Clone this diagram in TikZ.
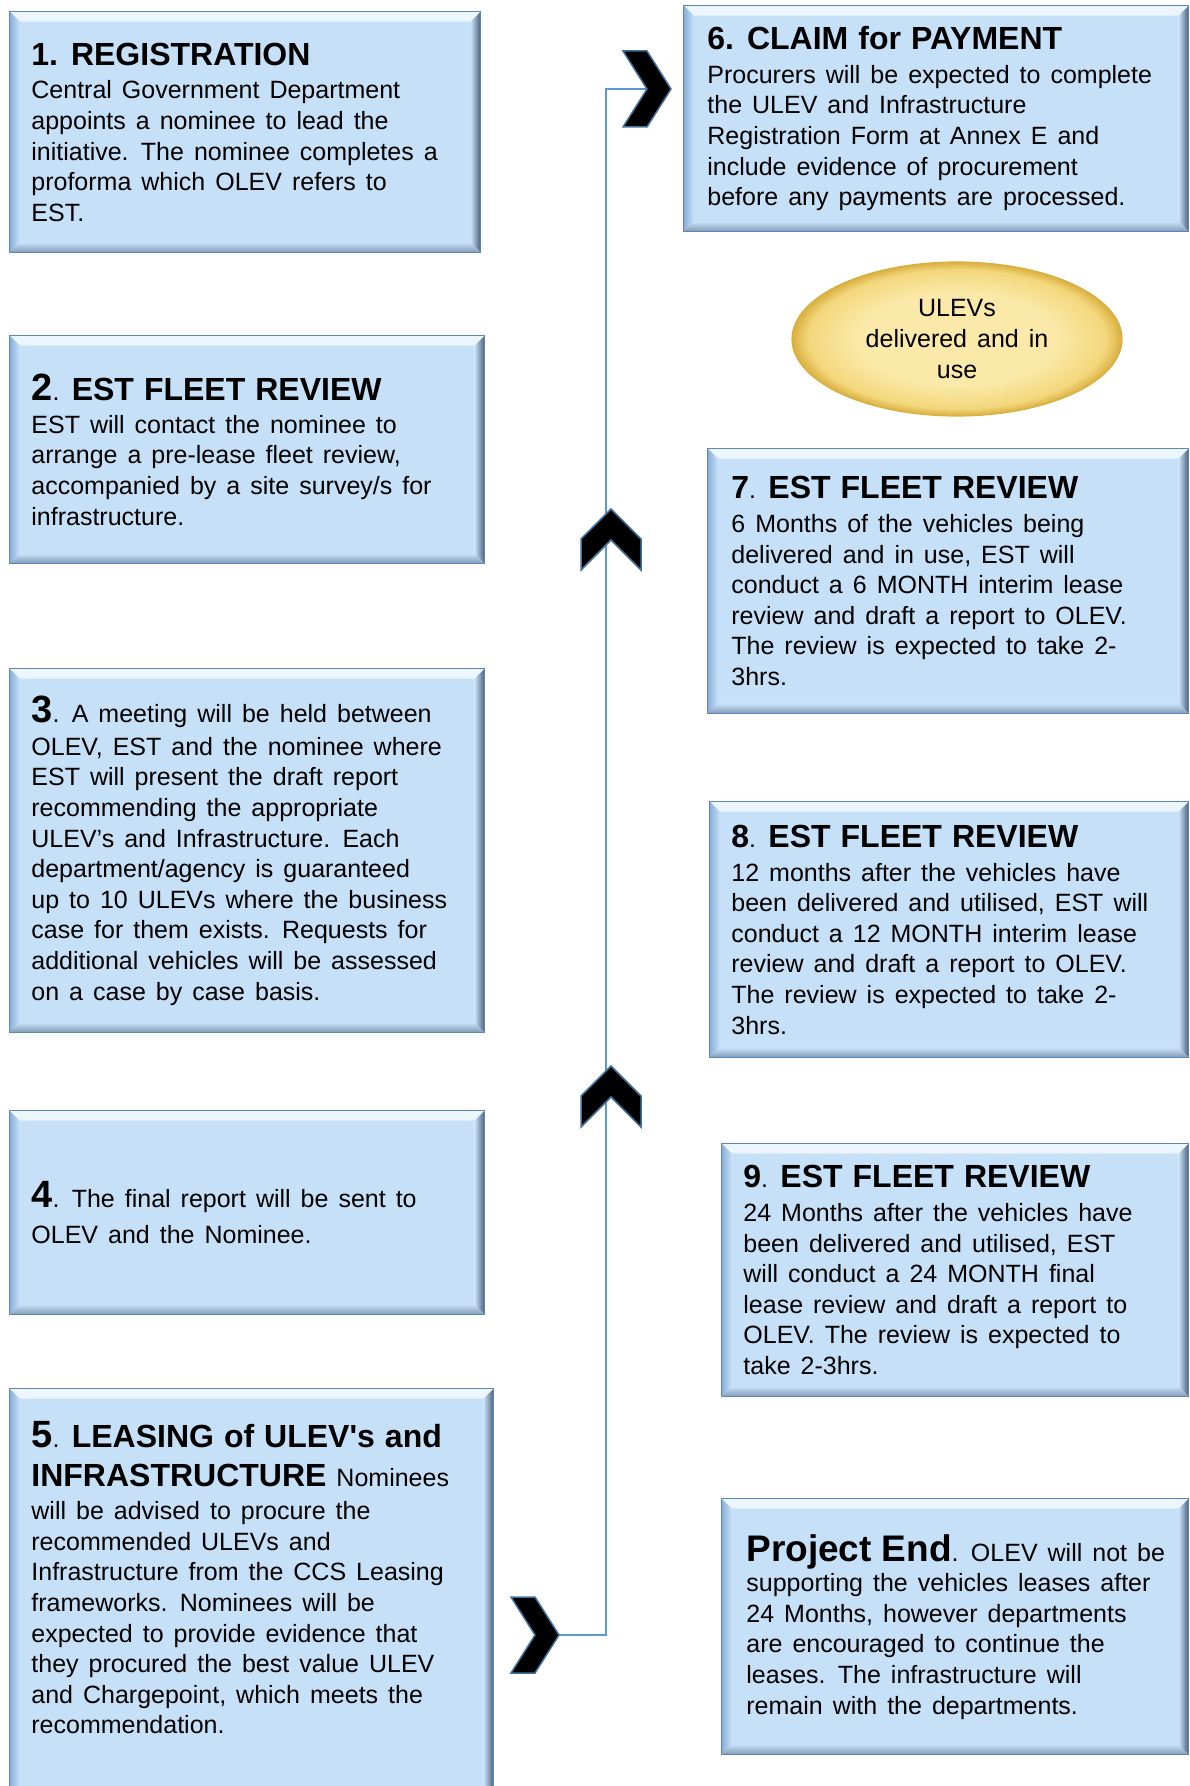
\documentclass[tikz,border=0pt]{standalone}
\usepackage{fontspec}
\setmainfont{Liberation Sans}
\usetikzlibrary{shapes.geometric, positioning}

\definecolor{boxfill}{HTML}{C6E0F8}
\definecolor{boxline}{HTML}{5A86B8}
\definecolor{bevtop}{HTML}{EDF6FE}
\definecolor{bevleft}{HTML}{8AAFD9}
\definecolor{bevright}{HTML}{4A5E76}
\definecolor{bevbot}{HTML}{8097B2}
\definecolor{flowblue}{HTML}{5B9BD5}
\definecolor{chevline}{HTML}{41719C}
\definecolor{ulevin}{HTML}{FAE9A8}
\definecolor{ulevmid}{HTML}{F3D77C}
\definecolor{ulevout}{HTML}{D9B040}

\pgfdeclareradialshading{ulevglow}{\pgfpoint{0bp}{0bp}}{color(0bp)=(ulevin); color(15bp)=(ulevin); color(22.5bp)=(ulevmid); color(25bp)=(ulevout); color(50bp)=(ulevout)}

\newcommand{\bodysize}{\fontsize{12.5}{15.3}\selectfont\spaceskip=5pt plus 1pt minus 1pt\relax}
\newcommand{\headsize}{\fontsize{16}{19}\selectfont\bfseries}
\newcommand{\bignum}[1]{{\fontsize{19}{19}\selectfont\bfseries #1}}

\tikzset{
    stage/.style={rectangle, draw=boxline, line width=0.7pt, fill=boxfill, anchor=north west, inner sep=0pt,
        path picture={
            \shade[top color=bevtop, bottom color=boxfill]
                (path picture bounding box.north west) -- (path picture bounding box.north east)
                -- ([shift={(-5pt,-5pt)}]path picture bounding box.north east)
                -- ([shift={(5pt,-5pt)}]path picture bounding box.north west) -- cycle;
            \shade[left color=bevleft, right color=boxfill]
                (path picture bounding box.north west) -- ([shift={(5pt,-5pt)}]path picture bounding box.north west)
                -- ([shift={(5pt,5pt)}]path picture bounding box.south west)
                -- (path picture bounding box.south west) -- cycle;
            \shade[left color=boxfill, right color=bevright]
                (path picture bounding box.north east) -- ([shift={(-5pt,-5pt)}]path picture bounding box.north east)
                -- ([shift={(-5pt,5pt)}]path picture bounding box.south east)
                -- (path picture bounding box.south east) -- cycle;
            \shade[top color=boxfill, bottom color=bevbot]
                (path picture bounding box.south west) -- (path picture bounding box.south east)
                -- ([shift={(-5pt,5pt)}]path picture bounding box.south east)
                -- ([shift={(5pt,5pt)}]path picture bounding box.south west) -- cycle;
        }},
    body/.style={align=left, font=\bodysize, inner sep=0pt, text=black},
    ulev/.style={ellipse, minimum width=165pt, minimum height=77pt, inner sep=0pt,
        shade, shading=ulevglow, draw=ulevout, line width=0.6pt, align=center, font=\bodysize},
    flow/.style={draw=flowblue, line width=1pt},
    chev/.style={fill=black, draw=chevline, line width=0.75pt, line join=miter},
    chevright/.pic={\path[chev] (-24,-38) -- (0,-38) -- (24,0) -- (0,38) -- (-24,38) -- (0,0) -- cycle;},
    chevup/.pic={\path[chev] (0,-31) -- (30,-1) -- (30,30) -- (0,0) -- (-30,30) -- (-30,-1) -- cycle;},
}

\begin{document}
\begin{tikzpicture}[x=0.5pt, y=-0.5pt]
    \useasboundingbox (0,0) rectangle (1189,1786);

    % left column
    \node[stage, minimum width=235.5pt, minimum height=120.5pt] (b1) at (9,11) {};
    \node[stage, minimum width=237.5pt, minimum height=114pt] (b2) at (9,335) {};
    \node[stage, minimum width=237.5pt, minimum height=182pt] (b3) at (9,668) {};
    \node[stage, minimum width=237.5pt, minimum height=102pt] (b4) at (9,1110) {};
    \node[stage, minimum width=242pt, minimum height=211pt] (b5) at (9,1388) {};

    % right column
    \node[stage, minimum width=252.5pt, minimum height=113pt] (b6) at (683,5) {};
    \node[ulev] (ulev) at (957,339) {ULEVs\\delivered and in\\use};
    \node[stage, minimum width=240.5pt, minimum height=132.5pt] (b7) at (707,448) {};
    \node[stage, minimum width=239.5pt, minimum height=128pt] (b8) at (709,801) {};
    \node[stage, minimum width=233.5pt, minimum height=126.5pt] (b9) at (721,1143) {};
    \node[stage, minimum width=233.5pt, minimum height=128pt] (b10) at (721,1498) {};

    % connector
    \coordinate (out5) at (559,1635);
    \coordinate (spine) at (606,89);
    \coordinate (in6) at (647,89);
    \draw[flow] (out5) -| (spine) -- (in6);

    % chevrons
    \pic at (535,1635) {chevright};
    \pic at (in6) {chevright};
    \pic at (611,540) {chevup};
    \pic at (611,1097) {chevup};

    % texts
    \node[body, right=11pt of b1.west] (t1) {{\headsize 1. REGISTRATION}\\[1.5pt]
        Central Government Department\\
        appoints a nominee to lead the\\
        initiative. The nominee completes a\\
        proforma which OLEV refers to\\
        EST.};
    \node[body, right=11pt of b2.west] (t2) {\bignum{2}. {\headsize EST FLEET REVIEW}\\[1pt]
        EST will contact the nominee to\\
        arrange a pre-lease fleet review,\\
        accompanied by a site survey/s for\\
        infrastructure.};
    \node[body, right=11pt of b3.west] (t3) {\bignum{3}. A meeting will be held between\\[1pt]
        OLEV, EST and the nominee where\\
        EST will present the draft report\\
        recommending the appropriate\\
        ULEV’s and Infrastructure. Each\\
        department/agency is guaranteed\\
        up to 10 ULEVs where the business\\
        case for them exists. Requests for\\
        additional vehicles will be assessed\\
        on a case by case basis.};
    \node[body, right=11pt of b4.west] (t4) {\bignum{4}. The final report will be sent to\\[3pt]
        OLEV and the Nominee.};
    \node[body, below right=16.5pt and 11pt of b5.north west] (t5) {\bignum{5}. {\headsize LEASING of ULEV\textquotesingle s and}\\[4pt]
        {\headsize INFRASTRUCTURE} Nominees\\[1.5pt]
        will be advised to procure the\\
        recommended ULEVs and\\
        Infrastructure from the CCS Leasing\\
        frameworks. Nominees will be\\
        expected to provide evidence that\\
        they procured the best value ULEV\\
        and Chargepoint, which meets the\\
        recommendation.};
    \node[body, right=12pt of b6.west] (t6) {{\headsize 6. CLAIM for PAYMENT}\\[1.5pt]
        Procurers will be expected to complete\\
        the ULEV and Infrastructure\\
        Registration Form at Annex E and\\
        include evidence of procurement\\
        before any payments are processed.};
    \node[body, right=12pt of b7.west] (t7) {{\headsize 7}. {\headsize EST FLEET REVIEW}\\[1.5pt]
        6 Months of the vehicles being\\
        delivered and in use, EST will\\
        conduct a 6 MONTH interim lease\\
        review and draft a report to OLEV.\\
        The review is expected to take 2-\\
        3hrs.};
    \node[body, right=11pt of b8.west] (t8) {{\headsize 8}. {\headsize EST FLEET REVIEW}\\[1.5pt]
        12 months after the vehicles have\\
        been delivered and utilised, EST will\\
        conduct a 12 MONTH interim lease\\
        review and draft a report to OLEV.\\
        The review is expected to take 2-\\
        3hrs.};
    \node[body, right=11pt of b9.west] (t9) {{\headsize 9}. {\headsize EST FLEET REVIEW}\\[1.5pt]
        24 Months after the vehicles have\\
        been delivered and utilised, EST\\
        will conduct a 24 MONTH final\\
        lease review and draft a report to\\
        OLEV. The review is expected to\\
        take 2-3hrs.};
    \node[body, right=12.5pt of b10.west] (t10) {{\fontsize{18.5}{19}\selectfont\bfseries Project End}. OLEV will not be\\
        supporting the vehicles leases after\\
        24 Months, however departments\\
        are encouraged to continue the\\
        leases. The infrastructure will\\
        remain with the departments.};
\end{tikzpicture}
\end{document}
